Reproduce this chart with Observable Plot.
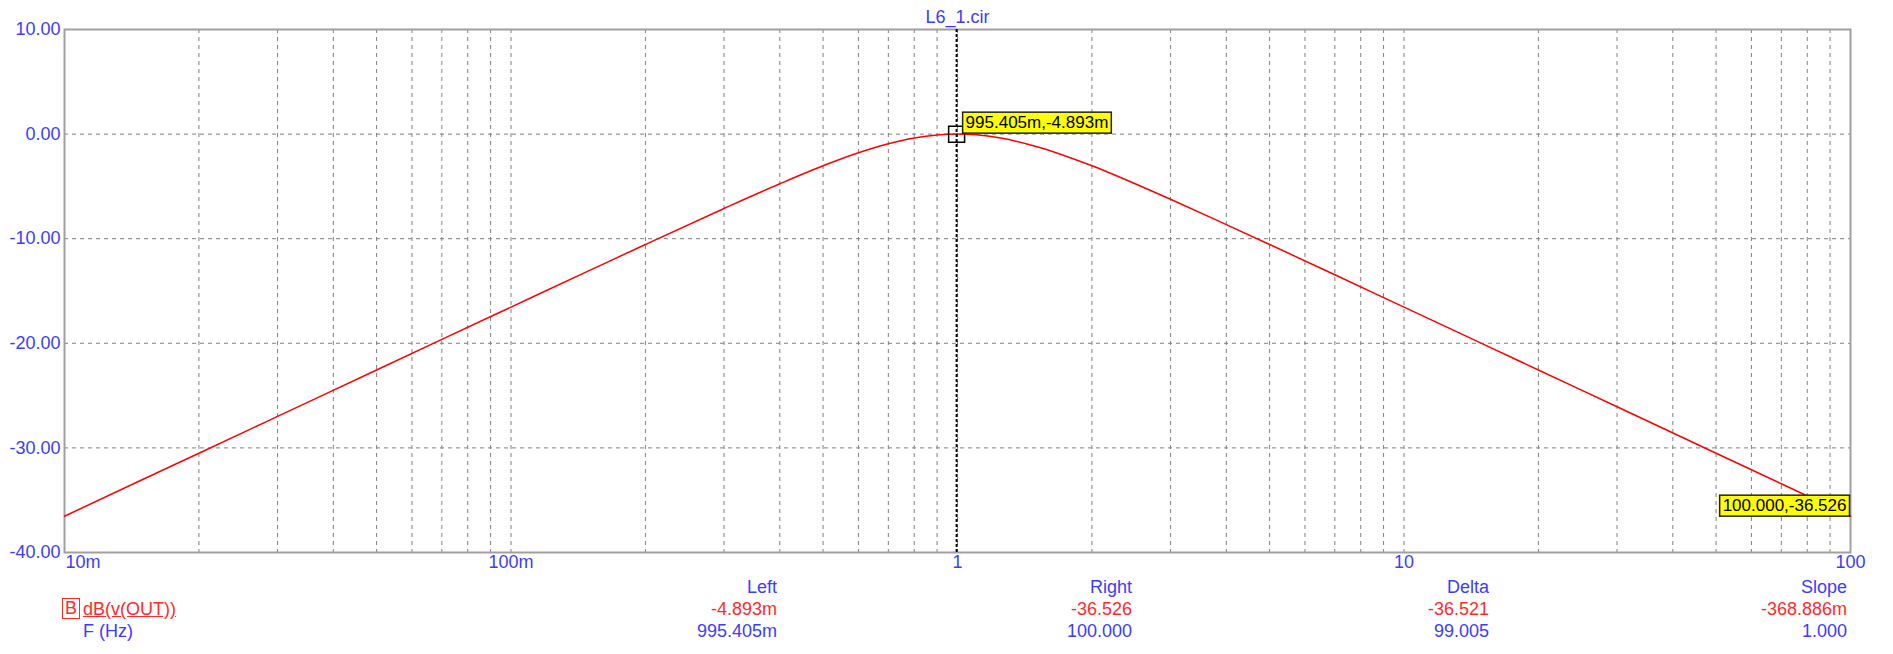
<!DOCTYPE html>
<html>
<head>
<meta charset="utf-8">
<script src="https://cdn.jsdelivr.net/npm/d3@7"></script>
<script src="https://cdn.jsdelivr.net/npm/@observablehq/plot@0.6"></script>
<style>
  body { margin: 0; background: #fff; }
  #wrap { position: relative; width: 1893px; height: 654px; font-family: "Liberation Sans", Arial, sans-serif; }
  .t { position: absolute; font-size: 18px; line-height: 20px; white-space: nowrap; }
  .blue { color: #3c3cff; }
  .red { color: #ff2a2a; }
  .ra { text-align: right; }
</style>
</head>
<body>
<div id="wrap"></div>
<script>
// ---- data ----
const freq = [0.01, 0.015, 0.02, 0.03, 0.05, 0.07, 0.1, 0.15, 0.2, 0.3, 0.4, 0.5, 0.6, 0.7, 0.8, 0.9, 1,
              1.1, 1.25, 1.5, 2, 2.5, 3, 4, 5, 7, 10, 15, 20, 30, 50, 70, 100];
const gain = [-36.53, -33.00, -30.51, -26.99, -22.55, -19.63, -16.54, -13.03, -10.55, -7.11, -4.75, -3.03, -1.79, -0.93, -0.38, -0.09, 0,
              -0.07, -0.38, -1.18, -3.03, -4.75, -6.23, -8.65, -10.55, -13.45, -16.54, -20.05, -22.55, -26.07, -30.51, -33.43, -36.53];

const xMajorTicks = [0.01, 0.1, 1, 10, 100];
const xMajorLabels = ["10m", "100m", "1", "10", "100"];
const xGridTicks = [0.02, 0.03, 0.04, 0.05, 0.06, 0.07, 0.08, 0.09, 0.1,
                    0.2, 0.3, 0.4, 0.5, 0.6, 0.7, 0.8, 0.9, 1,
                    2, 3, 4, 5, 6, 7, 8, 9, 10,
                    20, 30, 40, 50, 60, 70, 80, 90];
const yTicks = [-40, -30, -20, -10, 0, 10];
const yGridTicks = [-30, -20, -10, 0];

const title = "L6_1.cir";
const cursorLeft = [{f: 0.995405, v: -0.004893, label: "995.405m,-4.893m"}];
const cursorRight = [{f: 100, v: -36.526, label: "100.000,-36.526"}];

const colHeads = ["Left", "Right", "Delta", "Slope"];
const rowYValues = ["-4.893m", "-36.526", "-36.521", "-368.886m"];
const rowXValues = ["995.405m", "100.000", "99.005", "1.000"];
const traceName = "dB(v(OUT))";
const traceKey = "B";
const xName = "F (Hz)";

// ---- chart ----
const BLUE = "#3c3cff";
const rows = freq.map((f, i) => ({f, v: gain[i]}));
const xLabel = d => xMajorLabels[xMajorTicks.indexOf(d)];

const plot = Plot.plot({
  width: 1893,
  height: 654,
  marginLeft: 64,
  marginRight: 43,
  marginTop: 29,
  marginBottom: 102,
  style: {fontFamily: '"Liberation Sans", Arial, sans-serif', fontSize: "18px", background: "#fff"},
  x: {type: "log", domain: [0.01, 100]},
  y: {domain: [-40, 10]},
  marks: [
    Plot.gridX(xGridTicks, {stroke: "#808080", strokeOpacity: 1, strokeDasharray: "4,4"}),
    Plot.gridY(yGridTicks, {stroke: "#808080", strokeOpacity: 1, strokeDasharray: "4,4"}),
    Plot.frame({stroke: "#a0a0a0", strokeWidth: 2}),
    Plot.axisY(yTicks, {tickSize: 0, tickPadding: 4, tickFormat: d => d.toFixed(2), fill: BLUE, label: null}),
    Plot.axisX(xMajorTicks.slice(0, 1), {tickSize: 0, tickPadding: 3, tickFormat: xLabel, textAnchor: "start", dx: 1, fill: BLUE, label: null}),
    Plot.axisX(xMajorTicks.slice(1), {tickSize: 0, tickPadding: 3, tickFormat: xLabel, fill: BLUE, label: null}),
    Plot.line(rows, {x: "f", y: "v", stroke: "#ff0000", strokeWidth: 1.5, curve: "monotone-x"}),
    Plot.ruleX(cursorLeft, {x: "f", stroke: "#000", strokeWidth: 2, strokeDasharray: "3,2"}),
    Plot.dot(cursorLeft, {x: "f", y: "v", symbol: "square", r: 9, stroke: "#000", strokeWidth: 1.5, fill: "none"}),
    Plot.text(cursorLeft, {x: "f", y: "v", text: "label", textAnchor: "start", lineAnchor: "bottom", dx: 9, dy: -6, fontSize: 17, fill: "#000"}),
    Plot.text(cursorRight, {x: "f", y: "v", text: "label", textAnchor: "end", lineAnchor: "bottom", dx: -4, dy: -5, fontSize: 17, fill: "#000"}),
    Plot.text([title], {frameAnchor: "top", lineAnchor: "middle", dy: -12, fill: BLUE, fontSize: 18})
  ]
});

const wrap = document.getElementById("wrap");
wrap.appendChild(plot);

// yellow boxes behind the cursor labels
const labelTexts = [...cursorLeft, ...cursorRight].map(d => d.label);
for (const t of plot.querySelectorAll("text")) {
  if (!labelTexts.includes(t.textContent)) continue;
  const b = t.getBBox();
  const r = document.createElementNS("http://www.w3.org/2000/svg", "rect");
  r.setAttribute("x", b.x - 3);
  r.setAttribute("y", b.y - 1);
  r.setAttribute("width", b.width + 6);
  r.setAttribute("height", b.height + 2);
  r.setAttribute("fill", "#ffff00");
  r.setAttribute("stroke", "#222");
  r.setAttribute("stroke-width", 1.5);
  const tr = t.getAttribute("transform");
  if (tr) r.setAttribute("transform", tr);
  t.parentNode.insertBefore(r, t);
}

// ---- cursor readout table below the chart ----
const colRight = [777, 1132, 1489, 1847];
const rowTop = [577, 599, 621];
function addText(txt, cls, style) {
  const d = document.createElement("div");
  d.className = "t " + cls;
  d.textContent = txt;
  Object.assign(d.style, style);
  wrap.appendChild(d);
  return d;
}
colHeads.forEach((h, i) => {
  addText(h, "blue ra", {right: (1893 - colRight[i]) + "px", top: rowTop[0] + "px"});
  addText(rowYValues[i], "red ra", {right: (1893 - colRight[i]) + "px", top: rowTop[1] + "px"});
  addText(rowXValues[i], "blue ra", {right: (1893 - colRight[i]) + "px", top: rowTop[2] + "px"});
});
addText(traceKey, "red", {left: "62px", top: "598px", width: "16px", height: "19px", lineHeight: "19px", textAlign: "center", border: "1.5px solid #ff2a2a"});
addText(traceName, "red", {left: "83px", top: rowTop[1] + "px", textDecoration: "underline"});
addText(xName, "blue", {left: "83px", top: rowTop[2] + "px"});
</script>
</body>
</html>
